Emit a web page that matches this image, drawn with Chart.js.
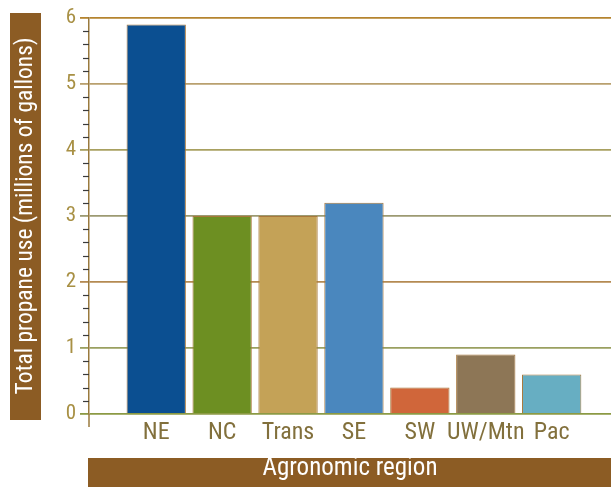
<!DOCTYPE html>
<html>
<head>
<meta charset="utf-8">
<script src="https://cdn.jsdelivr.net/npm/chart.js@4.4.1/dist/chart.umd.min.js"></script>
<style>
  html, body { margin: 0; padding: 0; background: #ffffff; }
  #wrap { width: 611px; height: 487px; position: relative; }
</style>
</head>
<body>
<div id="wrap"><canvas id="c" width="611" height="487"></canvas></div>
<script>
// Total propane use by agronomic region (millions of gallons)
const regions = ['NE', 'NC', 'Trans', 'SE', 'SW', 'UW/Mtn', 'Pac'];
const propaneUse = [5.9, 3.0, 3.0, 3.2, 0.4, 0.9, 0.6];
const barColors = ['#0b4f91', '#6d8f22', '#c4a257', '#4a87be', '#d0663a', '#8d7656', '#67aec2'];
const yTickValues = [0, 1, 2, 3, 4, 5, 6];

const FONT = "'Roboto Condensed', 'Liberation Sans', Arial, sans-serif";
const BROWN = '#8c5c24';

// Alternating gold / olive rules behind the bars
const gridColors = {
  0: '#8c9a44', 1: '#9aa060', 2: '#b48a52', 3: '#9c9a72',
  4: '#a8a060', 5: '#b9a06e', 6: '#b5842f'
};

// Brown title bands and the small minor ticks on the value axis
const decorations = {
  id: 'decorations',
  beforeDraw(chart) {
    const { ctx, chartArea } = chart;
    ctx.save();
    ctx.fillStyle = BROWN;
    ctx.fillRect(10, 13, 31, 407);
    ctx.fillRect(chartArea.left - 1, 458, chart.width - chartArea.left + 1, 29);
    ctx.restore();
  },
  afterDraw(chart) {
    const { ctx } = chart;
    const y = chart.scales.y;
    const x0 = y.right;
    ctx.save();
    ctx.strokeStyle = '#3a3a3a';
    ctx.lineWidth = 1.2;
    for (let i = 0; i < 30; i++) {
      if (i % 5 === 0) continue;
      const py = Math.round(y.getPixelForValue(i / 5)) + 0.5;
      ctx.beginPath();
      ctx.moveTo(x0 - 6, py);
      ctx.lineTo(x0, py);
      ctx.stroke();
    }
    // axis stub below zero
    ctx.strokeStyle = '#9a7a3e';
    ctx.lineWidth = 1.5;
    ctx.beginPath();
    ctx.moveTo(x0, y.getPixelForValue(0));
    ctx.lineTo(x0, y.getPixelForValue(0) + 13);
    ctx.stroke();
    ctx.restore();
  }
};

new Chart(document.getElementById('c'), {
  type: 'bar',
  data: {
    datasets: [{
      data: regions.map((r, i) => ({ x: i, y: propaneUse[i] })),
      backgroundColor: barColors,
      borderColor: '#a8783c',
      borderWidth: 1,
      barPercentage: 0.9,
      categoryPercentage: 1
    }]
  },
  options: {
    responsive: false,
    animation: false,
    events: [],
    layout: { padding: { left: 10, top: 18, right: 0, bottom: 0 } },
    plugins: { legend: { display: false }, tooltip: { enabled: false } },
    scales: {
      x: {
        type: 'linear',
        offset: false,
        min: -1.02,
        max: 6.9,
        afterFit(scale) { scale.height = 73; },
        afterBuildTicks(scale) { scale.ticks = regions.map((r, i) => ({ value: i })); },
        grid: { display: false, drawTicks: false, offset: false },
        border: { display: false },
        ticks: {
          callback: (v) => regions[v],
          font: { family: FONT, size: 24 },
          color: '#82703c',
          padding: 5,
          autoSkip: false,
          maxRotation: 0
        },
        title: {
          display: true,
          text: 'Agronomic region',
          color: '#ffffff',
          font: { family: FONT, size: 25 },
          padding: { top: 0, bottom: 3 }
        }
      },
      y: {
        min: 0,
        max: 6,
        afterFit(scale) { scale.width = 79; },
        afterBuildTicks(scale) { scale.ticks = yTickValues.map(v => ({ value: v })); },
        grid: {
          color: (c) => gridColors[c.tick ? c.tick.value : 0] || '#a8a060',
          lineWidth: 1.8,
          drawTicks: true,
          tickLength: 9
        },
        border: { display: true, color: '#9a7a3e', width: 1.5 },
        ticks: {
          font: { family: FONT, size: 21 },
          color: '#a89044',
          padding: 4
        },
        title: {
          display: true,
          text: 'Total propane use (millions of gallons)',
          color: '#ffffff',
          font: { family: FONT, size: 23.5 },
          padding: { top: 2, bottom: 0 }
        }
      }
    }
  },
  plugins: [decorations]
});
</script>
</body>
</html>
